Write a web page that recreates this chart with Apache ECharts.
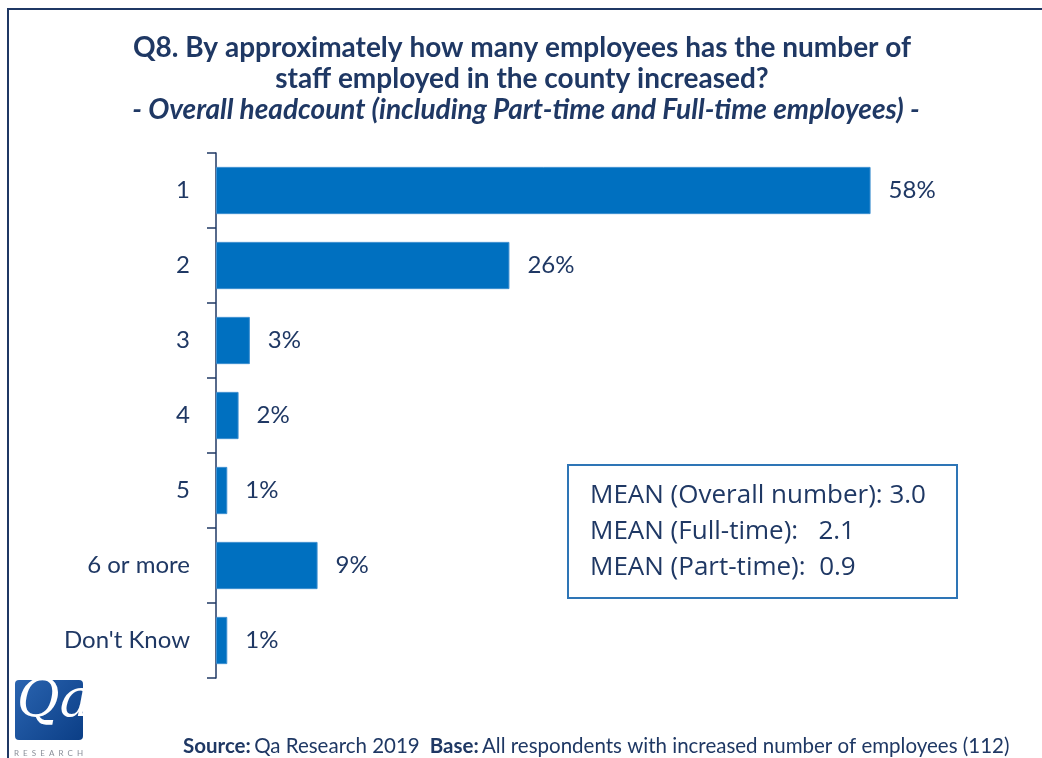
<!DOCTYPE html>
<html>
<head>
<meta charset="utf-8">
<script src="https://cdn.jsdelivr.net/npm/echarts@6/dist/echarts.min.js"></script>
<style>
  html, body { margin: 0; padding: 0; background: #fff; }
  #chart { width: 1042px; height: 758px; }
</style>
</head>
<body>
<div id="chart"></div>
<script>
// Answer categories and their share of respondents (%)
const categories = ['1', '2', '3', '4', '5', '6 or more', "Don't Know"];
const shares = [58, 26, 3, 2, 1, 9, 1];

const titleLines = [
  'Q8. By approximately how many employees has the number of',
  'staff employed in the county increased?'
];
const subtitle = '- Overall headcount (including Part-time and Full-time employees) -';
const meanLines = [
  'MEAN (Overall number): 3.0',
  'MEAN (Full-time):   2.1',
  'MEAN (Part-time):  0.9'
];

const NAVY = '#1F3864';
const BLUE = '#0070C0';
const FONT = 'Lato, "Open Sans", sans-serif';

const chart = echarts.init(document.getElementById('chart'), null, { renderer: 'canvas' });

chart.setOption({
  backgroundColor: '#ffffff',
  animation: false,
  grid: { left: 216, top: 153, width: 790, height: 525, containLabel: false },
  xAxis: {
    type: 'value', min: 0, max: 70,
    show: false
  },
  yAxis: {
    type: 'category',
    data: categories,
    inverse: true,
    axisLine: { show: true, lineStyle: { color: NAVY, width: 1.5 } },
    axisTick: { show: true, length: 9, lineStyle: { color: NAVY, width: 1.5 } },
    axisLabel: { color: NAVY, fontSize: 24, fontFamily: FONT, margin: 26 },
    splitLine: { show: false }
  },
  series: [{
    type: 'bar',
    data: shares,
    barCategoryGap: '37%',
    itemStyle: { color: BLUE, borderColor: '#3d8fd0', borderWidth: 1 },
    label: {
      show: true, position: 'right', distance: 18,
      formatter: p => p.value + '%',
      color: NAVY, fontSize: 24, fontFamily: FONT
    }
  }],
  graphic: [
    // outer frame
    { type: 'line', shape: { x1: 7, y1: 9, x2: 1042, y2: 9 }, style: { stroke: NAVY, lineWidth: 2 } },
    { type: 'line', shape: { x1: 8, y1: 9, x2: 8, y2: 758 }, style: { stroke: NAVY, lineWidth: 2 } },
    // title, one centred line each
    { type: 'text', x: 522, y: 48,
      style: { text: titleLines[0], fill: NAVY, font: 'bold 28px ' + FONT, align: 'center', verticalAlign: 'middle' } },
    { type: 'text', x: 522, y: 79,
      style: { text: titleLines[1], fill: NAVY, font: 'bold 28px ' + FONT, align: 'center', verticalAlign: 'middle' } },
    { type: 'text', x: 526, y: 110,
      style: { text: subtitle, fill: NAVY, font: 'italic bold 28px ' + FONT, align: 'center', verticalAlign: 'middle' } },
    // mean summary box
    { type: 'rect', shape: { x: 568, y: 465, width: 389, height: 133 },
      style: { fill: '#fff', stroke: '#2E75B6', lineWidth: 2 } },
    { type: 'text', x: 590, y: 478,
      style: { text: meanLines.join('\n'), fill: NAVY, font: '26px "Open Sans", sans-serif', lineHeight: 36 } },
    // logo
    { type: 'rect', shape: { x: 15, y: 680, width: 68, height: 60, r: 4 },
      style: { fill: new echarts.graphic.LinearGradient(0, 0, 1, 1, [
        { offset: 0, color: '#2a64b0' }, { offset: 1, color: '#0b3e86' }]) } },
    { type: 'text', x: 17, y: 676,
      style: { text: 'Qa', fill: '#fff', font: 'italic 52px "DejaVu Serif", serif' } },
    { type: 'text', x: 14, y: 749,
      style: { text: 'R  E  S  E  A  R  C  H', fill: '#8a8f99', font: '8px ' + FONT } },
    // footer
    { type: 'text', x: 183, y: 746,
      style: { verticalAlign: 'middle', rich: {
        b: { font: 'bold 20.5px ' + FONT, fill: NAVY },
        n: { font: '20.5px ' + FONT, fill: NAVY }
      }, text: '{b|Source:} {n|Qa Research 2019}   {b|Base:} {n|All respondents with increased number of employees (112)}' } }
  ]
});
</script>
</body>
</html>
